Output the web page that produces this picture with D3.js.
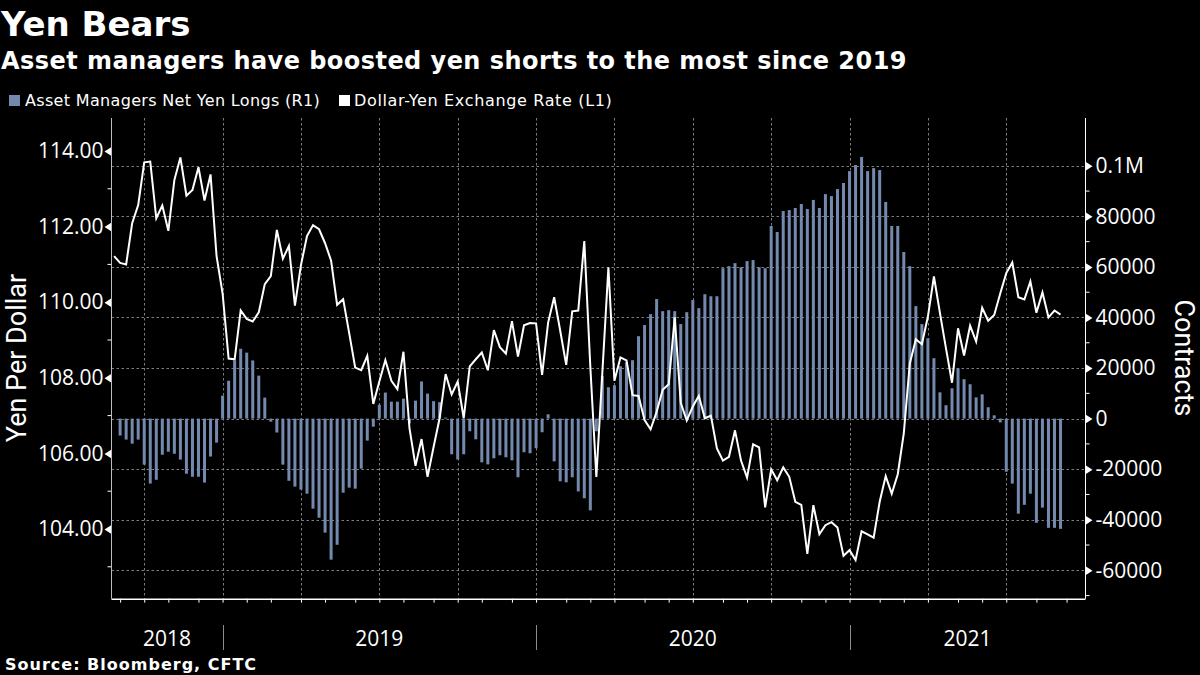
<!DOCTYPE html>
<html><head><meta charset="utf-8">
<script src="https://cdnjs.cloudflare.com/ajax/libs/d3/7.8.5/d3.min.js"></script>
<style>html,body{margin:0;padding:0;background:#000}svg{display:block}text{fill:#fff}</style>
</head><body><svg id="c" width="1200" height="675"></svg>
<script>
const titleText="Yen Bears";
const subtitleText="Asset managers have boosted yen shorts to the most since 2019";
const sourceText="Source: Bloomberg, CFTC";
const legendLabels=["Asset Managers Net Yen Longs (R1)","Dollar-Yen Exchange Rate (L1)"];
const firstWeek="2018-08-27";
const yen=[111.22,111.04,111.00,112.09,112.57,113.70,113.72,112.22,112.56,111.89,113.23,113.83,112.82,112.97,113.57,112.69,113.38,111.22,110.23,108.51,108.49,109.78,109.56,109.49,109.73,110.48,110.69,111.91,111.15,111.49,109.91,110.98,111.75,112.04,111.93,111.56,111.10,109.93,110.08,109.18,108.27,108.20,108.58,107.31,107.90,108.47,107.92,107.70,108.69,106.67,105.67,106.38,105.38,106.17,106.93,108.10,107.56,107.90,106.93,108.30,108.49,108.67,108.20,109.26,108.81,108.64,109.50,108.56,109.39,109.45,109.44,108.08,109.46,110.13,109.25,108.34,109.76,109.78,111.62,108.30,105.38,108.15,110.92,107.92,108.54,108.46,107.54,107.52,106.88,106.64,107.10,107.68,107.83,109.60,107.34,106.87,107.24,107.52,106.93,107.00,106.13,105.81,105.91,106.61,105.81,105.36,106.24,106.16,104.57,105.58,105.29,105.63,105.38,104.72,104.64,103.34,104.63,103.86,104.10,104.18,104.04,103.29,103.44,103.18,103.94,103.86,103.77,104.72,105.40,104.93,105.45,106.53,108.38,109.02,108.89,109.62,110.68,109.71,108.78,107.87,109.31,108.59,109.38,108.96,109.85,109.51,109.66,110.23,110.77,111.05,110.13,110.07,110.55,109.72,110.26,109.60,109.78,109.67];
const longs=[null,-6700,-8300,-9900,-8300,-18200,-25700,-24200,-14300,-13100,-13900,-16200,-21800,-23000,-23000,-25300,-15000,-9500,9100,15000,23000,27600,26100,23000,17000,8300,-1200,-5500,-18200,-24600,-26900,-28100,-29700,-35600,-39200,-45100,-55800,-49900,-29300,-27300,-27700,-19800,-8700,-3200,5500,10300,6700,6700,7900,-1900,7100,14700,9900,6900,6500,400,-14100,-16200,-14100,-5000,-8200,-17300,-18100,-15700,-14500,-15300,-16500,-23200,-13300,-13700,-11700,-5400,1700,-16900,-24800,-25200,-23200,-28800,-31500,-36300,-5000,16800,12400,13200,20700,22300,23100,32600,37000,41300,47300,42500,42900,42500,37400,42100,46900,43700,49200,48400,48400,59500,60300,61500,59900,62300,62700,59900,59500,76200,73800,82100,82500,83300,84900,82900,86500,83300,88800,88000,90800,93200,97900,100300,103500,97900,99100,98300,85700,76200,76200,65900,60300,44500,37400,31800,23900,10400,5300,12000,19900,15600,13600,8400,9600,4500,1300,-1500,-21000,-25700,-37600,-34100,-29700,-41200,-35200,-43200,-43200,-43600];
const monthTicks=["2018-09-03","2018-10-01","2018-10-29","2018-12-03","2018-12-31","2019-01-28","2019-02-25","2019-04-01","2019-04-29","2019-06-03","2019-07-01","2019-07-29","2019-09-02","2019-09-30","2019-10-28","2019-12-02","2019-12-30","2020-02-03","2020-03-02","2020-03-30","2020-05-04","2020-06-01","2020-06-29","2020-08-03","2020-08-31","2020-09-28","2020-11-02","2020-11-30","2020-12-28","2021-02-01","2021-03-01","2021-03-29","2021-05-03","2021-05-31","2021-06-28","2021-08-02","2021-09-06"];
const quarterTicks=["2018-10-01","2018-12-31","2019-04-01","2019-07-01","2019-09-30","2019-12-30","2020-03-30","2020-06-29","2020-09-28","2020-12-28","2021-03-29","2021-06-28"];
const yearBreaks=["2018-12-31","2019-12-30","2020-12-28"];
const yearLabels=["2018","2019","2020","2021"];
const leftMajor=[104,106,108,110,112,114];
const leftMinor=[103,105,107,109,111,113];
const rightMajor=[-60000,-40000,-20000,0,20000,40000,60000,80000,100000];
const rightMinor=[-70000,-50000,-30000,-10000,10000,30000,50000,70000,90000];
const rightFormat=v=>v===100000?"0.1M":String(v);

const FONT="'Open Sans','Noto Sans',sans-serif";
const BOLD="'DejaVu Sans',sans-serif";
const L=111.5,R=1085.5,T=118,B=598.7;
const parse=d3.utcParse("%Y-%m-%d");
const dates=yen.map((_,i)=>d3.utcDay.offset(parse(firstWeek),i*7));
const anchor=parse("2018-12-31");
const x=d3.scaleUtc().domain([d3.utcDay.offset(anchor,-(222.3-L)/6.03*7),d3.utcDay.offset(anchor,(R-222.3)/6.03*7)]).range([L,R]);
const yL=d3.scaleLinear().domain([114,104]).range([151,529]);
const yR=d3.scaleLinear().domain([100000,-60000]).range([165.8,570.3]);
const svg=d3.select("#c");
svg.append("rect").attr("width",1200).attr("height",675).attr("fill","#000");

// grid
const grid=svg.append("g").attr("stroke","#7d7d7d").attr("stroke-width",1).attr("stroke-dasharray","2.5 2.5");
grid.selectAll(".h").data(rightMajor).join("line").attr("x1",L).attr("x2",R).attr("y1",d=>Math.round(yR(d))+.5).attr("y2",d=>Math.round(yR(d))+.5);
grid.selectAll(".v").data(quarterTicks.map(parse)).join("line").attr("y1",T).attr("y2",B).attr("x1",d=>Math.round(x(d))+.5).attr("x2",d=>Math.round(x(d))+.5);

// bars
svg.append("g").attr("fill","#7389ad").selectAll("rect")
 .data(longs.map((v,i)=>({v,d:dates[i]})).filter(d=>d.v!==null)).join("rect")
 .attr("x",d=>x(d.d)-1.5).attr("width",3)
 .attr("y",d=>Math.min(yR(d.v),yR(0))).attr("height",d=>Math.abs(yR(d.v)-yR(0)));

// line
svg.append("path").datum(yen.map((v,i)=>[dates[i],v])).attr("fill","none").attr("stroke","#fff").attr("stroke-width",2).attr("stroke-linejoin","miter")
 .attr("d",d3.line().x(d=>x(d[0])).y(d=>yL(d[1])));

// axes
const fmt=d3.format(".2f");
const gl=svg.append("g").attr("transform",`translate(${L},0)`).call(d3.axisLeft(yL).tickValues(leftMajor).tickFormat(fmt).tickSize(0).tickPadding(8));
const gr=svg.append("g").attr("transform",`translate(${R},0)`).call(d3.axisRight(yR).tickValues(rightMajor).tickFormat(rightFormat).tickSize(0).tickPadding(10));
gl.select(".domain").remove();gr.select(".domain").remove();
[gl,gr].forEach(g=>g.selectAll("text").attr("font-family",FONT).attr("font-size",21).attr("fill","#fff"));
gl.selectAll(".tick").append("path").attr("d","M0,-4.5L-7,0L0,4.5Z").attr("fill","#fff");
gr.selectAll(".tick").append("path").attr("d","M0,-4.5L7,0L0,4.5Z").attr("fill","#fff");
gl.selectAll(".mn").data(leftMinor).join("line").attr("x1",-4).attr("x2",0).attr("y1",d=>yL(d)).attr("y2",d=>yL(d)).attr("stroke","#fff");
gr.selectAll(".mn").data(rightMinor).join("line").attr("x1",0).attr("x2",4).attr("y1",d=>yR(d)).attr("y2",d=>yR(d)).attr("stroke","#fff");
svg.append("line").attr("x1",L).attr("x2",L).attr("y1",T).attr("y2",B).attr("stroke","#bdbdbd");
svg.append("line").attr("x1",R).attr("x2",R).attr("y1",T).attr("y2",B).attr("stroke","#fff");
const gx=svg.append("g").attr("transform",`translate(0,${B})`).call(d3.axisBottom(x).tickValues(monthTicks.map(parse)).tickFormat("").tickSize(4).tickSizeOuter(0));
gx.select(".domain").attr("stroke","#fff").attr("d",`M${L},0.5H${R}`).attr("stroke-width",1.4);
gx.selectAll("line").attr("stroke","#fff");

// year separators and labels
svg.append("g").selectAll("line").data(yearBreaks.map(parse)).join("line")
 .attr("x1",d=>Math.round(x(d))+.5).attr("x2",d=>Math.round(x(d))+.5).attr("y1",625).attr("y2",650).attr("stroke","#8c8c8c");
const edges=[L,...yearBreaks.map(d=>x(parse(d))),R];
svg.append("g").selectAll("text").data(yearLabels).join("text")
 .attr("x",(d,i)=>(edges[i]+edges[i+1])/2).attr("y",646).attr("text-anchor","middle")
 .attr("font-family",FONT).attr("font-size",21).text(d=>d);

// titles
svg.append("text").attr("x",1).attr("y",36).attr("font-family",BOLD).attr("font-weight","bold").attr("font-size",34).text(titleText);
svg.append("text").attr("x",1).attr("y",69).attr("font-family",BOLD).attr("font-weight","bold").attr("font-size",24).attr("letter-spacing",0.45).text(subtitleText);
svg.append("text").attr("x",5).attr("y",670).attr("font-family",BOLD).attr("font-weight","bold").attr("font-size",16).attr("letter-spacing",1).text(sourceText);

// legend
svg.append("rect").attr("x",9).attr("y",95).attr("width",11).attr("height",11).attr("fill","#7389ad");
svg.append("text").attr("x",25).attr("y",106).attr("font-family",BOLD).attr("font-size",16).attr("letter-spacing",0.33).attr("fill","#ddd").text(legendLabels[0]);
svg.append("rect").attr("x",339).attr("y",95).attr("width",11).attr("height",11).attr("fill","#fff");
svg.append("text").attr("x",354).attr("y",106).attr("font-family",BOLD).attr("font-size",16).attr("letter-spacing",0.65).attr("fill","#ddd").text(legendLabels[1]);

// axis titles
svg.append("text").attr("transform","translate(25.5,358) rotate(-90)").attr("text-anchor","middle").attr("font-family","Roboto,sans-serif").attr("font-size",27).text("Yen Per Dollar");
svg.append("text").attr("transform","translate(1174.5,358) rotate(90)").attr("text-anchor","middle").attr("font-family","Roboto,sans-serif").attr("font-size",27).text("Contracts");
</script></body></html>
